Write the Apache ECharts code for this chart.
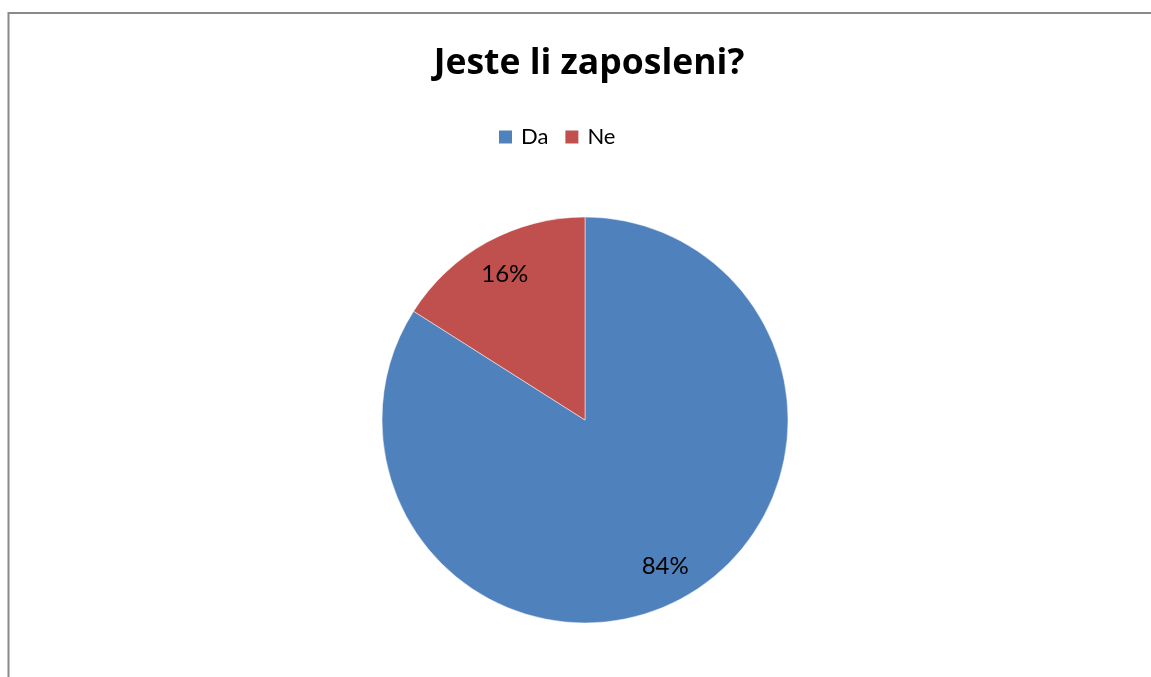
<!DOCTYPE html>
<html><head><meta charset="utf-8">
<script src="https://cdn.jsdelivr.net/npm/echarts@6/dist/echarts.min.js"></script>
<style>html,body{margin:0;padding:0;background:#fff}#c{width:1151px;height:677px}</style>
</head><body><div id="c"></div>
<script>
const titleText = 'Jeste li zaposleni?';
const categories = ['Da', 'Ne'];
const values = [84, 16];
const colors = ['#4F81BD', '#C0504D'];

const data = categories.map((c, i) => ({ name: c, value: values[i], itemStyle: { color: colors[i] } }));
const chart = echarts.init(document.getElementById('c'));
const font = 'Lato, "Open Sans", sans-serif';
chart.setOption({
  animation: false,
  graphic: [
    { type: 'line', shape: { x1: 8.5, y1: 13, x2: 1151, y2: 13 }, style: { stroke: '#8a8a8a', lineWidth: 2 }, z: -1 },
    { type: 'line', shape: { x1: 8.5, y1: 12, x2: 8.5, y2: 677 }, style: { stroke: '#8a8a8a', lineWidth: 2 }, z: -1 }
  ],
  title: { text: titleText, left: 584, textAlign: 'center', top: 41, textStyle: { fontFamily: '"Open Sans", sans-serif', fontSize: 35.5, fontWeight: 'bold', color: '#000' } },
  legend: { data: categories, top: 121, left: 492, itemWidth: 15, itemHeight: 15, itemGap: 15, icon: 'rect',
    textStyle: { fontFamily: font, fontSize: 22, color: '#000', padding: [0, 0, 0, 3] } },
  series: [
    { type: 'pie', center: [585, 420], radius: 203, startAngle: 90, clockwise: true, data: data,
      label: { show: false }, labelLine: { show: false }, itemStyle: { borderColor: '#fff', borderWidth: 0.5 }, emphasis: { disabled: true } },
    { type: 'pie', center: [585, 420], radius: [124, 203], startAngle: 90, clockwise: true, silent: true,
      data: categories.map((c, i) => ({ name: c, value: values[i], itemStyle: { color: 'transparent' } })),
      label: { show: true, position: 'inside', formatter: p => Math.round(p.percent) + '%', fontFamily: font, fontSize: 24, color: '#000' },
      labelLine: { show: false }, emphasis: { disabled: true } }
  ]
});
</script></body></html>
